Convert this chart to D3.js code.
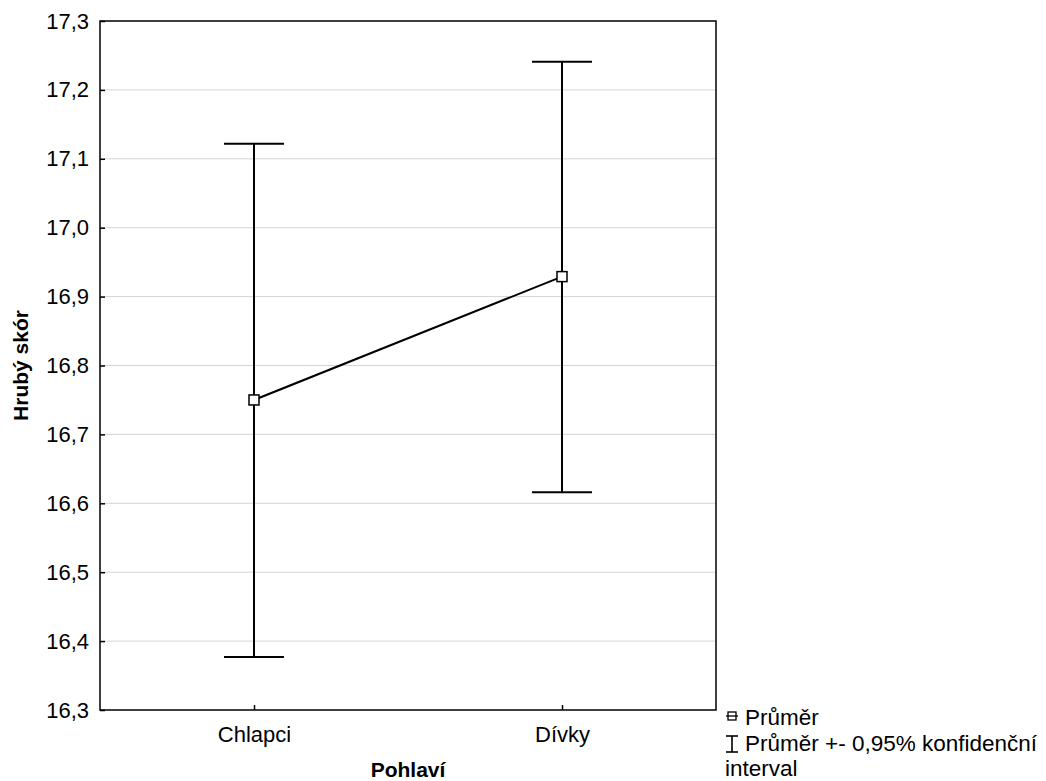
<!DOCTYPE html>
<html>
<head>
<meta charset="utf-8">
<script src="https://cdn.jsdelivr.net/npm/d3@7"></script>
<style>
  body { margin: 0; background: #fff; }
  text { font-family: "Liberation Sans", Arial, sans-serif; }
</style>
</head>
<body>
<div id="chart"></div>
<script>
// Data
const groups = ["Chlapci", "Dívky"];
const means = [16.75, 16.929];
const lower = [16.377, 16.616];
const upper = [17.122, 17.241];
const yTicks = [16.3, 16.4, 16.5, 16.6, 16.7, 16.8, 16.9, 17.0, 17.1, 17.2, 17.3];

const width = 1046, height = 781;
const margin = {top: 21, right: 330, bottom: 71, left: 100};

const svg = d3.select("#chart").append("svg")
  .attr("width", width)
  .attr("height", height);

const x = d3.scalePoint()
  .domain(groups)
  .range([margin.left, width - margin.right])
  .padding(0.5);

const y = d3.scaleLinear()
  .domain([16.3, 17.3])
  .range([height - margin.bottom, margin.top]);

const fmt = d => d3.format(".1f")(d).replace(".", ",");

// Gridlines
svg.append("g")
  .selectAll("line")
  .data(yTicks.slice(1, -1))
  .enter().append("line")
  .attr("x1", margin.left)
  .attr("x2", width - margin.right)
  .attr("y1", d => y(d))
  .attr("y2", d => y(d))
  .attr("stroke", "#d4d4d4")
  .attr("stroke-width", 1);

// Y axis (ticks inside)
const yAxis = svg.append("g")
  .attr("transform", `translate(${margin.left},0)`)
  .call(d3.axisLeft(y).tickValues(yTicks).tickFormat(fmt).tickSize(-5).tickPadding(11));
yAxis.select(".domain").remove();
yAxis.selectAll(".tick line").attr("stroke", "#000").attr("stroke-width", 1.5);
yAxis.selectAll(".tick text").style("font-size", "22px").attr("fill", "#000");

// X axis (ticks inside)
const xAxis = svg.append("g")
  .attr("transform", `translate(0,${height - margin.bottom})`)
  .call(d3.axisBottom(x).tickSize(-5).tickPadding(16));
xAxis.select(".domain").remove();
xAxis.selectAll(".tick line").attr("stroke", "#000").attr("stroke-width", 1.5);
xAxis.selectAll(".tick text").style("font-size", "22px").attr("fill", "#000");

// Frame
svg.append("rect")
  .attr("x", margin.left)
  .attr("y", margin.top)
  .attr("width", width - margin.left - margin.right)
  .attr("height", height - margin.top - margin.bottom)
  .attr("fill", "none")
  .attr("stroke", "#000")
  .attr("stroke-width", 1.5);

// Error bars
const capHalf = 30;
const bars = svg.append("g")
  .selectAll("g")
  .data(groups)
  .enter().append("g");

bars.append("line")
  .attr("x1", d => x(d)).attr("x2", d => x(d))
  .attr("y1", (d, i) => y(lower[i])).attr("y2", (d, i) => y(upper[i]))
  .attr("stroke", "#000").attr("stroke-width", 2);

bars.append("line")
  .attr("x1", d => x(d) - capHalf).attr("x2", d => x(d) + capHalf)
  .attr("y1", (d, i) => y(upper[i])).attr("y2", (d, i) => y(upper[i]))
  .attr("stroke", "#000").attr("stroke-width", 2);

bars.append("line")
  .attr("x1", d => x(d) - capHalf).attr("x2", d => x(d) + capHalf)
  .attr("y1", (d, i) => y(lower[i])).attr("y2", (d, i) => y(lower[i]))
  .attr("stroke", "#000").attr("stroke-width", 2);

// Mean line
const line = d3.line()
  .x((d, i) => x(groups[i]))
  .y(d => y(d));

svg.append("path")
  .datum(means)
  .attr("d", line)
  .attr("fill", "none")
  .attr("stroke", "#000")
  .attr("stroke-width", 2);

// Mean markers
svg.append("g")
  .selectAll("rect")
  .data(means)
  .enter().append("rect")
  .attr("x", (d, i) => x(groups[i]) - 5)
  .attr("y", d => y(d) - 5)
  .attr("width", 10)
  .attr("height", 10)
  .attr("fill", "#fff")
  .attr("stroke", "#000")
  .attr("stroke-width", 1.5);

// Axis titles
svg.append("text")
  .attr("x", (margin.left + width - margin.right) / 2)
  .attr("y", 777)
  .attr("text-anchor", "middle")
  .style("font-size", "21px")
  .style("font-weight", "bold")
  .text("Pohlaví");

svg.append("text")
  .attr("transform", `translate(28, ${(margin.top + height - margin.bottom) / 2}) rotate(-90)`)
  .attr("text-anchor", "middle")
  .style("font-size", "21px")
  .style("font-weight", "bold")
  .text("Hrubý skór");

// Legend
const lg = svg.append("g").attr("transform", "translate(725, 0)");
lg.append("rect")
  .attr("x", 3).attr("y", 712).attr("width", 8).attr("height", 8)
  .attr("fill", "#fff").attr("stroke", "#000").attr("stroke-width", 1.3);
lg.append("line")
  .attr("x1", 1).attr("x2", 13).attr("y1", 716).attr("y2", 716)
  .attr("stroke", "#000").attr("stroke-width", 1.3);
lg.append("text").attr("x", 20).attr("y", 725).style("font-size", "22.5px").text("Průměr");

lg.append("line").attr("x1", 7).attr("x2", 7).attr("y1", 736).attr("y2", 752)
  .attr("stroke", "#000").attr("stroke-width", 1.6);
lg.append("line").attr("x1", 1).attr("x2", 13).attr("y1", 736).attr("y2", 736)
  .attr("stroke", "#000").attr("stroke-width", 1.6);
lg.append("line").attr("x1", 1).attr("x2", 13).attr("y1", 752).attr("y2", 752)
  .attr("stroke", "#000").attr("stroke-width", 1.6);
lg.append("text").attr("x", 20).attr("y", 751).style("font-size", "22.5px").text("Průměr +- 0,95% konfidenční");
lg.append("text").attr("x", 0).attr("y", 776).style("font-size", "22.5px").text("interval");
</script>
</body>
</html>
